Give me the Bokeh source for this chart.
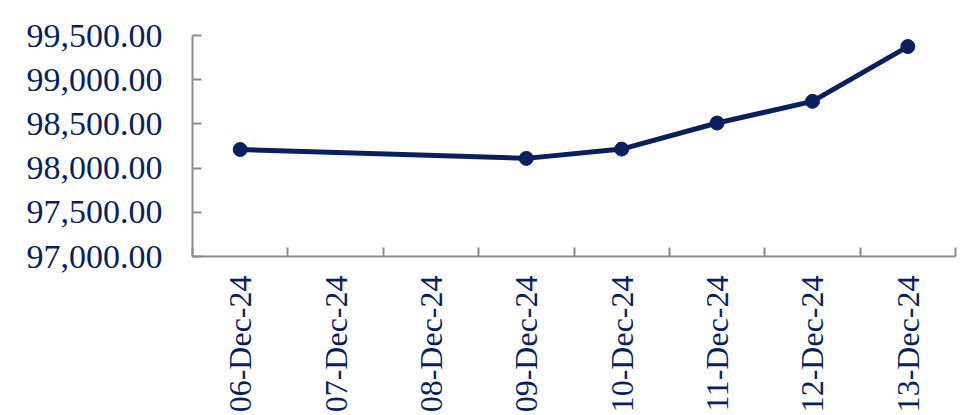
from bokeh.plotting import figure
from bokeh.models import Range1d, FixedTicker, NumeralTickFormatter
from bokeh.embed import file_html
from bokeh.resources import INLINE
import math

categories = ["06-Dec-24", "07-Dec-24", "08-Dec-24", "09-Dec-24",
              "10-Dec-24", "11-Dec-24", "12-Dec-24", "13-Dec-24"]
point_dates = ["06-Dec-24", "09-Dec-24", "10-Dec-24", "11-Dec-24", "12-Dec-24", "13-Dec-24"]
point_values = [98210, 98110, 98215, 98510, 98755, 99375]
y_ticks = [97000, 97500, 98000, 98500, 99000, 99500]

NAVY = "#0a1f5e"
GRAY = "#8c8c8c"
FONT = "Liberation Serif"

xs = [categories.index(d) + 0.5 for d in point_dates]

p = figure(width=978, height=415, output_backend="svg", toolbar_location=None,
           x_range=Range1d(0, len(categories)), y_range=Range1d(y_ticks[0], y_ticks[-1]),
           min_border_left=192, min_border_right=23, min_border_top=35, min_border_bottom=158)
p.outline_line_color = None
p.grid.visible = False
p.background_fill_color = "white"
p.border_fill_color = "white"

p.line(xs, point_values, line_color=NAVY, line_width=5)
p.scatter(xs, point_values, size=14, fill_color=NAVY, line_color=NAVY)

xa = p.xaxis[0]
xa.ticker = FixedTicker(ticks=[i + 0.5 for i in range(len(categories))],
                        minor_ticks=list(range(len(categories) + 1)))
xa.major_label_overrides = {i + 0.5: c for i, c in enumerate(categories)}
xa.major_label_orientation = math.pi / 2
xa.major_tick_in = 0
xa.major_tick_out = 0
xa.minor_tick_in = 9
xa.minor_tick_out = 0
xa.minor_tick_line_color = GRAY
xa.minor_tick_line_width = 2
xa.axis_line_color = GRAY
xa.axis_line_width = 2
xa.major_label_text_font = FONT
xa.major_label_text_font_size = "32px"
xa.major_label_text_color = NAVY
xa.major_label_standoff = 19

ya = p.yaxis[0]
ya.ticker = FixedTicker(ticks=y_ticks)
ya.formatter = NumeralTickFormatter(format="0,0.00")
ya.major_tick_in = 9
ya.major_tick_out = 0
ya.minor_tick_line_color = None
ya.major_tick_line_color = GRAY
ya.major_tick_line_width = 2
ya.axis_line_color = GRAY
ya.axis_line_width = 2
ya.major_label_text_font = FONT
ya.major_label_text_font_size = "34px"
ya.major_label_text_color = NAVY
ya.major_label_standoff = 30

open("out.html", "w").write(file_html(p, INLINE))
